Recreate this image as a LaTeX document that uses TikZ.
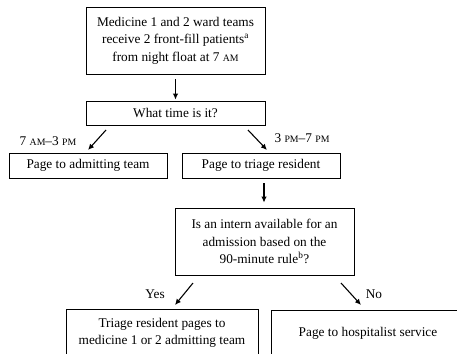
\documentclass[tikz,border=0pt]{standalone}
\usepackage{fontspec}
\setmainfont{Liberation Serif}
\usetikzlibrary{calc,arrows.meta}
\newcommand{\ampm}[1]{{\fontsize{9.8}{10}\selectfont #1}}

\begin{document}
\begin{tikzpicture}[x=1pt,y=-1pt,
        font=\fontsize{13.3}{17.5}\selectfont,
        box/.style={draw,line width=.8pt,align=center,inner sep=0pt},
        >={Latex[length=6pt,width=5.5pt]}]
        \useasboundingbox (0,0) rectangle (457,353);
        \node (front) at (175.5,40.5) [box,minimum width=179pt,minimum height=67pt] {Medicine 1 and 2 ward teams\\receive 2 front-fill patients\textsuperscript{a}\\from night float at 7 \ampm{AM}};
        \node (time) at (175.5,113) [box,minimum width=179pt,minimum height=24pt] {What time is it?};
        \node (admit) at (88,165.5) [box,minimum width=158pt,minimum height=25pt] {Page to admitting team};
        \node (triage) at (261,165.5) [box,minimum width=158pt,minimum height=25pt] {Page to triage resident};
        \node (intern) at (264.5,241.5) [box,minimum width=179pt,minimum height=67pt] {Is an intern available for an\\admission based on the\\90-minute rule\textsuperscript{b}?};
        \node (pages) at (162,333) [box,minimum width=192pt,minimum height=48pt] {Triage resident pages to\\medicine 1 or 2 admitting team};
        \node (hosp) at (368,333) [box,minimum width=194pt,minimum height=46pt] {Page to hospitalist service};
        % arrow ends
        \coordinate (amS) at (106,130);
        \coordinate (amE) at (88,150);
        \coordinate (pmS) at (248,130);
        \coordinate (pmE) at (267,150);
        \coordinate (yesS) at (193,283);
        \coordinate (yesE) at (175,305);
        \coordinate (noS) at (341,283);
        \coordinate (noE) at (361,305);
        \draw [->,line width=1.1pt] ($(front.south)+(0,5)$) -- ($(time.north)+(0,-1)$);
        \draw [->,line width=1.1pt] (amS) -- (amE);
        \draw [->,line width=1.1pt] (pmS) -- (pmE);
        \draw [->,line width=1.1pt] ($(triage.south)+(3,5)$) -- ($(intern.north)+(-.5,-5)$);
        \draw [->,line width=1.1pt] (yesS) -- (yesE);
        \draw [->,line width=1.1pt] (noS) -- (noE);
        \node (amlbl) at (48,141) {7 \ampm{AM}--3 \ampm{PM}};
        \node (pmlbl) at (302,138) {3 \ampm{PM}--7 \ampm{PM}};
        \node (yes) at (155,294) {Yes};
        \node (no) at (374,294) {No};
    \end{tikzpicture}
\end{document}
